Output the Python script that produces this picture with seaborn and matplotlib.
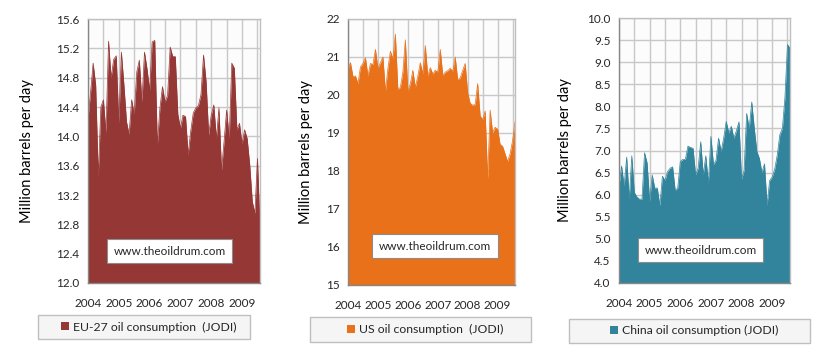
import numpy as np
import pandas as pd
import matplotlib
matplotlib.use("Agg")
import matplotlib.pyplot as plt
import seaborn as sns
from matplotlib.patches import Patch, Rectangle
from matplotlib.ticker import MultipleLocator

# =============================================
# JODI monthly oil consumption, Jan 2004 - Aug 2009
# (million barrels per day)
# =============================================

eu_values = [14.25, 14.6, 15.0, 14.7, 13.45, 14.4, 14.5, 14.05, 15.3, 14.8, 15.05, 15.1,
             14.18, 15.15, 14.7, 14.2, 14.03, 14.5, 14.3, 14.88, 15.04, 14.47, 15.15, 14.92,
             14.63, 15.29, 15.31, 13.88, 14.38, 14.68, 14.47, 14.56, 15.22, 15.09, 15.09, 14.3,
             14.11, 14.29, 14.27, 13.75, 14.07, 14.32, 14.39, 14.42, 14.57, 15.11, 14.75, 14.02,
             14.29, 14.43, 13.97, 14.39, 13.54, 13.93, 14.36, 13.97, 15.0, 14.93, 14.09, 14.18,
             13.9, 14.09, 13.97, 13.61, 13.11, 12.95, 13.7, 12.75]

us_values = [20.7, 20.85, 20.48, 20.5, 20.3, 20.74, 20.83, 20.98, 20.5, 20.83, 20.8, 21.2,
             20.7, 20.85, 21.0, 20.1, 20.7, 21.15, 20.95, 21.6, 20.15, 20.2, 20.6, 21.45,
             20.1, 20.3, 20.65, 20.2, 20.5, 20.85, 20.55, 21.3, 20.5, 20.72, 20.55, 20.65,
             20.6, 21.2, 20.52, 20.6, 20.64, 20.7, 20.62, 21.0, 20.4, 20.45, 20.65, 20.83,
             20.05, 19.78, 19.73, 19.75, 20.3, 19.45, 19.35, 19.58, 17.8, 19.6, 19.0, 19.15,
             19.1, 18.7, 18.65, 18.45, 18.25, 18.45, 18.8, 19.3]

china_values = [6.2, 6.65, 6.2, 6.85, 5.9, 6.88, 6.05, 5.95, 5.9, 5.9, 6.95, 6.72,
                5.85, 6.45, 6.15, 6.15, 5.75, 6.42, 6.32, 6.52, 6.6, 6.63, 6.1, 6.15,
                6.75, 6.8, 6.8, 7.1, 7.07, 7.05, 6.45, 6.6, 7.2, 6.45, 6.88, 6.25,
                7.32, 6.68, 6.78, 7.28, 6.98, 7.28, 7.66, 7.4, 7.55, 7.28, 7.45, 7.65,
                6.35, 6.55, 7.84, 7.5, 8.1, 7.5, 6.98, 6.82, 6.5, 6.7, 5.76, 6.32,
                6.4, 6.58, 6.9, 7.36, 7.5, 8.2, 9.4, 9.32]

year_ticks = [2004, 2005, 2006, 2007, 2008, 2009]

# decimal year for each month
t = 2004 + np.arange(len(eu_values)) / 12
df = pd.DataFrame({"t": t, "eu": eu_values, "us": us_values, "china": china_values})

panels = [
    # column, colour, ymin, ymax, step, fmt, legend text
    ("eu", "#953735", 12.0, 15.6, 0.4, "{:.1f}", "EU-27 oil consumption  (JODI)"),
    ("us", "#E8711A", 15, 22, 1, "{:.0f}", "US oil consumption  (JODI)"),
    ("china", "#31849B", 4.0, 10.0, 0.5, "{:.1f}", "China oil consumption (JODI)"),
]

# axes rectangles [left, bottom, width, height] in figure fraction
ax_rects = [[0.1064, 0.2095, 0.208, 0.737],
            [0.4208, 0.2040, 0.202, 0.743],
            [0.7485, 0.2095, 0.2068, 0.740]]
ylabel_x = [-0.314, -0.21, -0.275]
mark_xy = [(0.474, 0.121), (0.521, 0.145), (0.477, 0.123)]
legend_rects = [[0.046, 0.053, 0.256, 0.067],
                [0.375, 0.045, 0.267, 0.070],
                [0.688, 0.042, 0.291, 0.067]]

sns.set_style("white")
plt.rcParams["font.family"] = ["Lato", "DejaVu Sans"]

fig = plt.figure(figsize=(8.27, 3.58), dpi=100)

for i, (col, color, ymin, ymax, step, fmt, label) in enumerate(panels):
    ax = fig.add_axes(ax_rects[i])
    ax.set_facecolor("#FCFCFC")

    sns.lineplot(data=df, x="t", y=col, ax=ax, color=color, linewidth=0.5)
    ax.fill_between(df["t"], ymin, df[col], color=color, linewidth=0, zorder=2)

    ax.set_xlim(df["t"].iloc[0], df["t"].iloc[-1])
    ax.set_ylim(ymin, ymax)

    yt = np.arange(ymin, ymax + step / 2, step)
    ax.set_yticks(yt)
    ax.set_yticklabels([fmt.format(v) for v in yt])
    ax.set_xticks(year_ticks)
    ax.set_xticklabels([str(y) for y in year_ticks])
    ax.xaxis.set_minor_locator(MultipleLocator(0.5))

    ax.grid(True, which="both", axis="x", color="#C8C8C8", linewidth=1.0, zorder=0)
    ax.grid(True, which="major", axis="y", color="#C8C8C8", linewidth=1.0, zorder=0)
    ax.set_axisbelow(True)

    ax.tick_params(axis="both", which="major", labelsize=8.5, colors="#262626",
                   length=3, width=0.8, direction="out")
    ax.tick_params(axis="x", which="major", pad=8)
    ax.tick_params(axis="y", which="major", pad=3)
    ax.tick_params(axis="x", which="minor", length=0)
    ax.tick_params(axis="both", which="major", color="#868686")

    for side in ["top", "right"]:
        ax.spines[side].set_color("#BFBFBF")
        ax.spines[side].set_linewidth(1.0)
    for side in ["left", "bottom"]:
        ax.spines[side].set_color("#868686")
        ax.spines[side].set_linewidth(1.0)

    ax.set_xlabel("")
    ax.set_ylabel("Million barrels per day", fontsize=10.5, color="#000000")
    ax.yaxis.set_label_coords(ylabel_x[i], 0.5)

    ax.text(mark_xy[i][0], mark_xy[i][1], "www.theoildrum.com", transform=ax.transAxes,
            ha="center", va="center", fontsize=8.5, color="#262626", zorder=5,
            bbox=dict(boxstyle="square,pad=0.55", facecolor="white",
                      edgecolor="#8C8C8C", linewidth=0.8))

    # legend box below each panel
    lr = legend_rects[i]
    fig.patches.append(Rectangle((lr[0], lr[1]), lr[2], lr[3], transform=fig.transFigure,
                                 facecolor="#F5F5F5", edgecolor="#BFBFBF", linewidth=1.0,
                                 zorder=-1))
    ax.legend(handles=[Patch(facecolor=color, edgecolor="none", label=label)],
              loc="center", bbox_to_anchor=(lr[0] + lr[2] / 2 + 0.006, lr[1] + lr[3] / 2),
              bbox_transform=fig.transFigure, frameon=False, fontsize=8.8,
              handlelength=0.65, handleheight=0.65, handletextpad=0.35,
              borderpad=0, labelcolor="#262626")

fig.savefig("out.png", dpi=100, facecolor="white")
